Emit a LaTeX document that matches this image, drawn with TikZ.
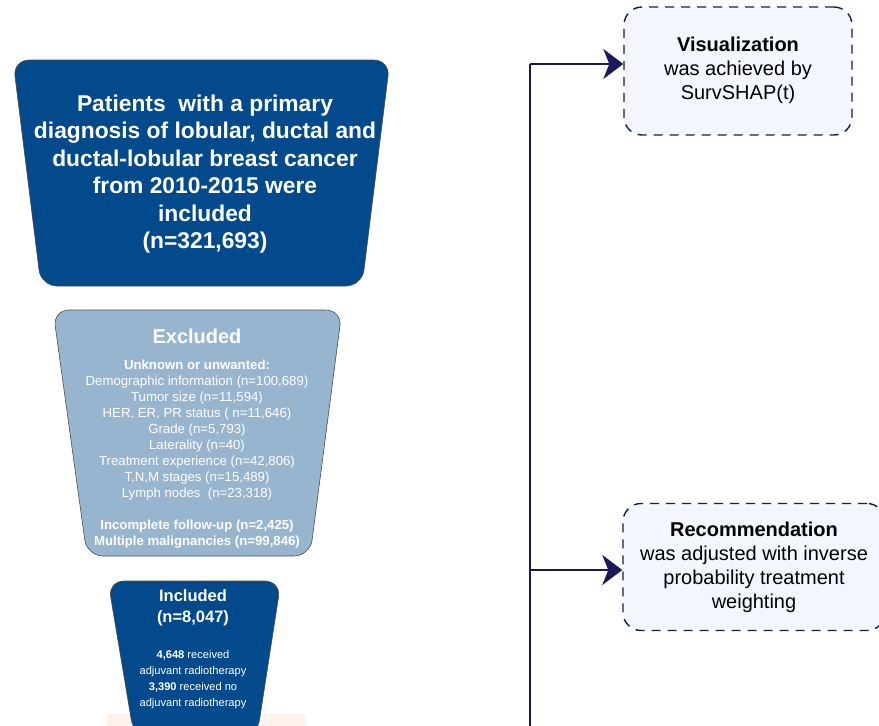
\documentclass[tikz,border=0pt]{standalone}
\usepackage{fontspec}
\setmainfont{Liberation Sans}
\usepackage{xcolor}
\definecolor{darkblue}{RGB}{2,74,140}
\definecolor{steel}{RGB}{152,181,207}
\definecolor{navy}{RGB}{26,24,88}
\definecolor{paleblue}{RGB}{243,247,253}
\definecolor{peach}{RGB}{253,242,236}
\usepackage{tikz}
\usetikzlibrary{positioning,arrows.meta,calc}

\begin{document}
\begin{tikzpicture}[x=1pt,y=-1pt,
	funnel/.style={rounded corners=16pt, draw=gray!60!black, line width=.6pt},
	dashbox/.style={draw=navy, fill=paleblue, dash pattern=on 9pt off 7pt, line width=1.4pt, rounded corners=18pt, align=center},
	flow/.style={navy, line width=2.8pt, -{Stealth[length=20pt,width=30pt,inset=6pt]}}]
		\useasboundingbox (0,0) rectangle (879,726);
		
		%%%% TOP FUNNEL
		\filldraw[funnel, fill=darkblue] (13,60) -- (390,60) -- (362,286) -- (41,286) -- cycle;
		\node[text=white, align=center, font=\bfseries\fontsize{22.8}{27.5}\selectfont] (cohort) at (205,174)
		{Patients\ \ with a primary\\ diagnosis of lobular, ductal and\\ ductal-lobular breast cancer\\ from 2010-2015 were\\ included\\ (n=321,693)};
		
		%%%% EXCLUDED FUNNEL
		\filldraw[funnel, fill=steel] (53,310) -- (342,310) -- (310,556) -- (87,556) -- cycle;
		\node[text=white, font=\bfseries\fontsize{20}{23}\selectfont] (exhead) at (197,336) {Excluded};
		\node[text=white, align=center, font=\fontsize{13.2}{16}\selectfont] (exbody) at (197,454)
		{\textbf{Unknown or unwanted:}\\ Demographic information (n=100,689)\\ Tumor size (n=11,594)\\
		 HER, ER, PR status ( n=11,646)\\ Grade (n=5,793)\\ Laterality (n=40)\\
		 Treatment experience (n=42,806)\\ T,N,M stages (n=15,489)\\ Lymph nodes\ \ (n=23,318)\\[16pt]
		 \textbf{Incomplete follow-up (n=2,425)}\\ \textbf{Multiple malignancies (n=99,846)}};
		
		%%%% INCLUDED FUNNEL
		\fill[peach] (107,714) rectangle (306,726);
		\filldraw[funnel, fill=darkblue] (108,581) -- (281,581) -- (257,736) -- (134,736) -- cycle;
		\node[text=white, align=center, font=\bfseries\fontsize{16.5}{21}\selectfont] (inhead) at (193,608)
		{Included\\ (n=8,047)};
		\node[text=white, align=center, font=\fontsize{11.1}{16}\selectfont] (inbody) at (193,680)
		{\textbf{4,648} received\\ adjuvant radiotherapy\\ \textbf{3,390} received no\\ adjuvant radiotherapy};
		
		%%%% RIGHT BRANCH
		\node[dashbox, minimum width=228pt, minimum height=128pt, font=\fontsize{20}{24}\selectfont] (vis) at (738,71)
		{\textbf{Visualization}\\ was achieved by\\ SurvSHAP(t)\\[-18pt]};
		\node[dashbox, minimum width=262pt, minimum height=127pt, font=\fontsize{20}{24}\selectfont] (rec) at (754,567)
		{\textbf{Recommendation}\\ was adjusted with inverse\\ probability treatment\\ weighting};
		
		\coordinate (ltop) at (530,64);
		\coordinate (lmid) at (530,570);
		\coordinate (lbot) at (530,726);
		\draw[navy, line width=2.8pt] (ltop) -- (lbot);
		\draw[flow] (ltop) -- (ltop -| vis.west);
		\draw[flow] (lmid) -- (lmid -| rec.west);
		
\end{tikzpicture}
\end{document}
